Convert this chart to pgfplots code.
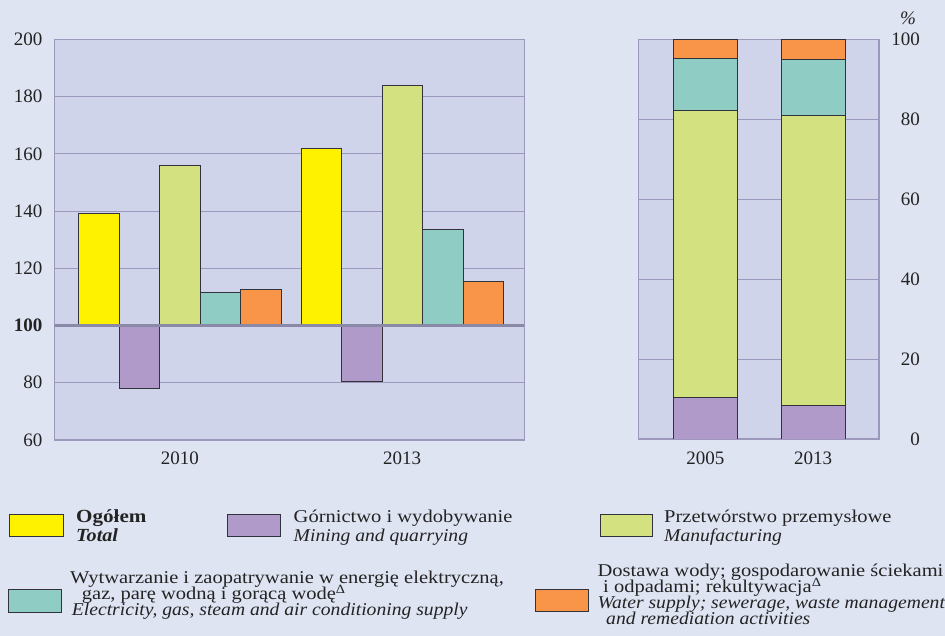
\documentclass[border=0pt]{standalone}
\usepackage{fontspec}
\setmainfont{Liberation Serif}
\newfontfamily\legfont[FakeStretch=1.14, ItalicFeatures={FakeStretch=1.09}, BoldItalicFeatures={FakeStretch=1.09}]{Liberation Serif}
\usepackage{pgfplots}
\usepackage{pgfplotstable}
\pgfplotsset{compat=1.18}
\definecolor{bgpage}{RGB}{223,228,243}
\definecolor{bgplot}{RGB}{207,212,234}
\definecolor{gridc}{RGB}{155,152,187}
\definecolor{cyel}{RGB}{255,242,0}
\definecolor{cpur}{RGB}{176,154,202}
\definecolor{cgrn}{RGB}{212,225,129}
\definecolor{cteal}{RGB}{143,205,196}
\definecolor{corg}{RGB}{248,149,72}
\definecolor{edge}{RGB}{50,50,60}
\definecolor{txt}{RGB}{35,35,35}
\newcommand\lines[2]{\vtop{\baselineskip=#1\lineskiplimit=-\maxdimen\lineskip=0pt #2}}

\pgfplotstableread{
x total mining manuf energy water
0 139 78 156 111.4 112.6
1 162 80.5 184 133.6 115.5
}\lefttab
\pgfplotstableread{
x mining manuf energy water
0 10.4 71.9 12.8 4.9
1 8.5 72.5 14.0 5.0
}\righttab

\begin{document}
\begin{tikzpicture}[x=1pt,y=1pt]
\useasboundingbox (0,0) rectangle (945,636);
\fill[bgpage] (0,0) rectangle (945,636);
\begin{axis}[at={(54.3pt,196pt)}, anchor=south west, scale only axis,
 width=470pt, height=400.7pt,
 xmin=-0.565, xmax=1.549, ymin=-40, ymax=100,
 axis background/.style={fill=bgplot},
 axis line style={gridc, line width=1.3pt},
 ybar=0pt, bar width=40.5pt,
 ytick={-40,-20,...,100},
 yticklabels={60,80,\textbf{100},120,140,160,180,200},
 xtick={0,1}, xticklabels={2010,2013},
 major tick length=0pt,
 ymajorgrids, grid style={gridc, line width=1pt},
 tick label style={font=\fontsize{19}{19}\selectfont, text=txt, inner sep=0pt},
 yticklabel style={xshift=-11.6pt},
 xticklabel style={yshift=-12pt},
 y filter/.expression={y-100},
 every axis plot/.append style={draw=edge, line width=0.9pt},
]
\addplot[fill=cyel] table[x=x,y=total]{\lefttab};
\addplot[fill=cpur] table[x=x,y=mining]{\lefttab};
\addplot[fill=cgrn] table[x=x,y=manuf]{\lefttab};
\addplot[fill=cteal] table[x=x,y=energy]{\lefttab};
\addplot[fill=corg] table[x=x,y=water]{\lefttab};
\draw[gridc!90!black, line width=2.2pt] (axis cs:-0.565,0) -- (axis cs:1.549,0);
\end{axis}

\begin{axis}[at={(638.3pt,197pt)}, anchor=south west, scale only axis,
 width=240.7pt, height=399.7pt,
 xmin=-0.621, xmax=1.610, ymin=0, ymax=100,
 axis background/.style={fill=bgplot},
 axis line style={gridc, line width=1.3pt},
 ybar stacked, bar width=64pt,
 ytick={0,20,...,100}, yticklabel pos=right,
 yticklabels={0,20,40,60,80,100},
 xtick={0,1}, xticklabels={2005,2013},
 major tick length=0pt,
 ymajorgrids, grid style={gridc, line width=1pt},
 tick label style={font=\fontsize{19}{19}\selectfont, text=txt, inner sep=0pt},
 yticklabel style={anchor=east, xshift=41pt},
 xticklabel style={yshift=-13pt},
 every axis plot/.append style={draw=edge, line width=0.9pt},
]
\addplot[fill=cpur] table[x=x,y=mining]{\righttab};
\addplot[fill=cgrn] table[x=x,y=manuf]{\righttab};
\addplot[fill=cteal] table[x=x,y=energy]{\righttab};
\addplot[fill=corg] table[x=x,y=water]{\righttab};
\end{axis}

\node[font=\fontsize{19}{19}\selectfont\itshape, text=txt] at (908,618) {\%};

\tikzset{leg/.style={anchor=base west, inner sep=0pt, text=txt, font=\legfont\fontsize{18}{18}\selectfont},
 box/.style={draw=edge, line width=0.9pt}}
% item 1
\filldraw[box, fill=cyel] (9,100) rectangle (63,122);
\node[leg, font=\legfont\fontsize{18.5}{18.5}\selectfont\bfseries] at (76,113)
 {\lines{18.5pt}{\hbox{Ogółem}\hbox{\itshape Total}}};
% item 2
\filldraw[box, fill=cpur] (227,100) rectangle (280,122);
\node[leg] at (293.5,113)
 {\lines{18.5pt}{\hbox{Górnictwo i wydobywanie}\hbox{\itshape Mining and quarrying}}};
% item 3
\filldraw[box, fill=cgrn] (600,100) rectangle (652,122);
\node[leg] at (664,113)
 {\lines{18.5pt}{\hbox{Przetwórstwo przemysłowe}\hbox{\itshape Manufacturing}}};
% item 4
\filldraw[box, fill=cteal] (8.3,23.7) rectangle (61.7,46.7);
\node[leg] at (70,52.5)
 {\lines{16pt}{\hbox{Wytwarzanie i zaopatrywanie w energię elektryczną,}
  \hbox{\hspace*{11.7pt}gaz, parę wodną i gorącą wodę\textsuperscript{Δ}}
  \hbox{\hspace*{1.7pt}\itshape Electricity, gas, steam and air conditioning supply}}};
% item 5
\filldraw[box, fill=corg] (535,24.3) rectangle (588.3,46.7);
\node[leg] at (597.3,59.5)
 {\lines{16pt}{\hbox{Dostawa wody; gospodarowanie ściekami}
  \hbox{\hspace*{5.7pt}i odpadami; rekultywacja\textsuperscript{Δ}}
  \hbox{\itshape Water supply; sewerage, waste management}
  \hbox{\hspace*{8.7pt}\itshape and remediation activities}}};
\end{tikzpicture}
\end{document}
